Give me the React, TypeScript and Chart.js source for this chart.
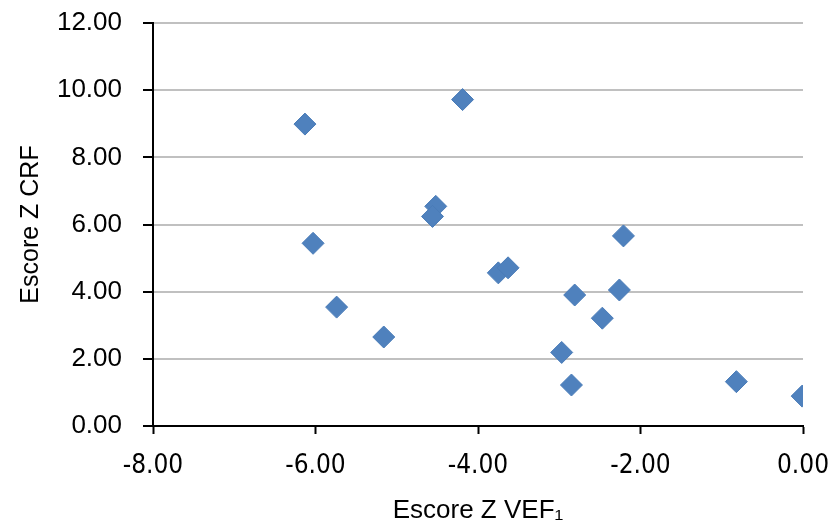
import React, { useEffect, useRef } from "react";
import { Chart, registerables } from "chart.js";

Chart.register(...registerables);

const xValues = [-6.13, -4.19, -6.03, -5.74, -5.16, -4.52, -4.56, -3.75, -3.63, -2.81, -2.21, -2.26, -2.47, -2.97, -2.85, -0.82, -0.01];
const yValues = [8.99, 9.72, 5.44, 3.54, 2.65, 6.54, 6.24, 4.56, 4.71, 3.90, 5.66, 4.05, 3.21, 2.19, 1.22, 1.32, 0.89];

const xTitle = "Escore Z VEF\u2081";
const yTitle = "Escore Z CRF";

export default function App() {
  const ref = useRef<HTMLCanvasElement | null>(null);

  useEffect(() => {
    if (!ref.current) return;
    const points = xValues.map((x, i) => ({ x, y: yValues[i] }));
    const chart = new Chart(ref.current, {
      type: "scatter",
      data: {
        datasets: [
          {
            data: points,
            pointStyle: "rectRot",
            pointRadius: 11,
            pointHoverRadius: 11,
            backgroundColor: "#4F81BD",
            borderColor: "#4A7CB8",
            borderWidth: 1,
          },
        ],
      },
      options: {
        responsive: false,
        animation: false,
        layout: { padding: { top: 23, right: 33, left: 0, bottom: 0 } },
        plugins: { legend: { display: false }, tooltip: { enabled: false } },
        scales: {
          x: {
            type: "linear",
            min: -8,
            max: 0,
            afterFit: (s: any) => {
              s.height = 105;
              s.paddingLeft = 0;
              s.paddingRight = 0;
              s.paddingTop = 0;
              s.paddingBottom = 0;
            },
            ticks: {
              stepSize: 2,
              padding: 17,
              color: "#000",
              font: { family: "'DejaVu Sans Condensed', 'Liberation Sans Narrow', 'Liberation Sans'", size: 26 },
              callback: (v: any) => Number(v).toFixed(2),
            },
            grid: {
              drawOnChartArea: false,
              drawTicks: true,
              tickLength: 8,
              tickColor: "#000",
              tickWidth: 2,
            },
            border: { color: "#000", width: 2 },
            title: {
              display: true,
              text: xTitle,
              color: "#000",
              font: { family: "'Liberation Sans', Arial", size: 26 },
              padding: 5,
            },
          },
          y: {
            type: "linear",
            min: 0,
            max: 12,
            afterFit: (s: any) => {
              s.width = 153;
              s.paddingLeft = 0;
              s.paddingRight = 0;
              s.paddingTop = 0;
              s.paddingBottom = 0;
            },
            ticks: {
              stepSize: 2,
              padding: 21,
              color: "#000",
              font: { family: "'Liberation Sans', Arial", size: 26 },
              callback: (v: any) => Number(v).toFixed(2),
            },
            grid: {
              drawTicks: true,
              tickLength: 10,
              tickColor: "#000",
              tickWidth: 2,
              lineWidth: 2,
              color: (ctx: any) => (ctx.tick && ctx.tick.value === 0 ? "rgba(0,0,0,0)" : "#C0C0C0"),
            },
            border: { color: "#000", width: 2 },
            title: {
              display: true,
              text: yTitle,
              color: "#000",
              font: { family: "'Liberation Sans', Arial", size: 25 },
              padding: 16,
            },
          },
        },
      },
    });
    return () => chart.destroy();
  }, []);

  return (
    <div style={{ position: "fixed", left: 0, top: 0, width: 836, height: 531, background: "#fff" }}>
      <canvas ref={ref} width={836} height={531} />
    </div>
  );
}
